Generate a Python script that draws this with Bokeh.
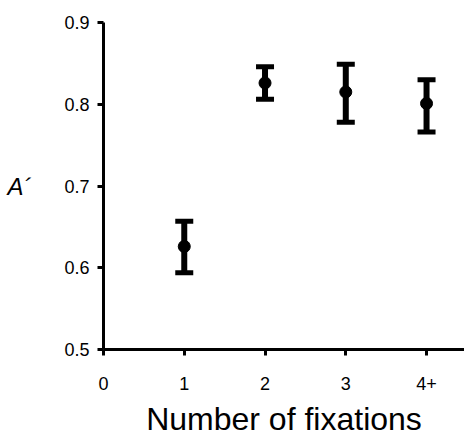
from bokeh.plotting import figure
from bokeh.models import Range1d, FixedTicker, ColumnDataSource, Whisker, TeeHead
from bokeh.embed import file_html
from bokeh.resources import INLINE

# Data
x_ticks = [0, 1, 2, 3, 4]
x_tick_labels = ["0", "1", "2", "3", "4+"]
fixations = [1, 2, 3, 4]
mean_a = [0.626, 0.826, 0.815, 0.801]
lower = [0.594, 0.806, 0.778, 0.766]
upper = [0.657, 0.846, 0.849, 0.830]
y_ticks = [0.5, 0.6, 0.7, 0.8, 0.9]
y_tick_labels = ["0.5", "0.6", "0.7", "0.8", "0.9"]
x_title = "Number of fixations"
y_title = "A\u00b4"

FONT = "Liberation Sans"

src = ColumnDataSource(dict(x=fixations, y=mean_a, lo=lower, hi=upper))

p = figure(width=464, height=439, output_backend="svg", toolbar_location=None,
           x_range=Range1d(0, 4.47), y_range=Range1d(0.5, 0.9),
           min_border_left=103, min_border_right=0, min_border_top=22, min_border_bottom=90)
p.outline_line_color = None
p.grid.visible = False
p.background_fill_color = "white"
p.border_fill_color = "white"

w = Whisker(source=src, base="x", lower="lo", upper="hi", line_width=6, line_color="black",
            upper_head=TeeHead(size=18, line_width=5, line_color="black"),
            lower_head=TeeHead(size=18, line_width=5, line_color="black"))
p.add_layout(w)
p.scatter("x", "y", source=src, size=12, color="black")

for ax in (p.xaxis[0], p.yaxis[0]):
    ax.axis_line_width = 3
    ax.axis_line_color = "black"
    ax.major_tick_line_width = 3
    ax.major_tick_line_color = "black"
    ax.major_tick_out = 6
    ax.major_tick_in = 0
    ax.minor_tick_line_color = None
    ax.major_label_text_font = FONT
    ax.major_label_text_font_size = "18px"
    ax.major_label_text_color = "black"
    ax.axis_label_text_font = FONT
    ax.axis_label_text_color = "black"

p.xaxis.ticker = FixedTicker(ticks=x_ticks)
p.xaxis.major_label_overrides = {t: l for t, l in zip(x_ticks, x_tick_labels)}
p.xaxis.major_label_standoff = 21
p.xaxis.axis_label = x_title
p.xaxis.axis_label_text_font_size = "32px"
p.xaxis.axis_label_text_font_style = "normal"
p.xaxis.axis_label_standoff = 8

p.yaxis.ticker = FixedTicker(ticks=y_ticks)
p.yaxis.major_label_overrides = {t: l for t, l in zip(y_ticks, y_tick_labels)}
p.yaxis.major_label_standoff = 8
p.yaxis.axis_label = y_title
p.yaxis.axis_label_orientation = "horizontal"
p.yaxis.axis_label_text_font_size = "24px"
p.yaxis.axis_label_text_font_style = "italic"
p.yaxis.axis_label_standoff = 30

open("out.html", "w").write(file_html(p, INLINE))
